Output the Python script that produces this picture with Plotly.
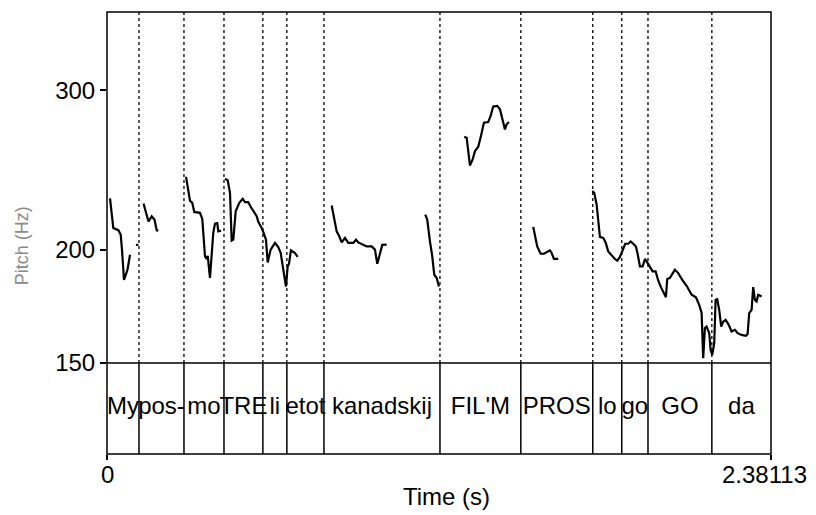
import math
import plotly.graph_objects as go

# ---- data ----
T_END = 2.38113

# pitch contour segments (time s, pitch Hz)
t_my = [0.0108, 0.0226, 0.0405, 0.0491, 0.0538, 0.0584, 0.0610, 0.0735, 0.0825]
f_my = [227.9, 211.4, 210.2, 207.9, 200.1, 190.1, 185.3, 190.1, 197.5]

t_dash = [0.1036, 0.1126]
f_dash = [202.5, 202.5]

t_pos = [0.1309, 0.1488, 0.1603, 0.1703, 0.1782, 0.1839]
f_pos = [225.0, 214.9, 217.7, 216.0, 210.2, 210.0]

t_mo = [0.2833, 0.2976, 0.3058, 0.3130, 0.3334, 0.3417, 0.3514, 0.3575, 0.3611,
        0.3693, 0.3811, 0.3872, 0.3955, 0.3990, 0.4087]
f_mo = [240.8, 226.6, 225.3, 220.2, 219.7, 216.3, 196.7, 195.4, 197.0,
        186.2, 208.8, 213.8, 214.1, 209.6, 210.0]

t_tre = [0.4231, 0.4328, 0.4410, 0.4471, 0.4529, 0.4615, 0.4744, 0.4866, 0.4948,
         0.5066, 0.5152, 0.5307, 0.5368, 0.5425, 0.5547, 0.5640, 0.5701, 0.5762,
         0.5869, 0.6024, 0.6142, 0.6228, 0.6321, 0.6382, 0.6418, 0.6479, 0.6526,
         0.6597, 0.6741, 0.6838]
f_tre = [239.6, 238.7, 231.2, 204.7, 205.2, 220.6, 225.3, 227.7, 225.7,
         225.7, 223.1, 219.7, 217.8, 214.7, 211.4, 207.9, 205.2, 193.7,
         200.1, 203.5, 201.4, 198.4, 190.1, 183.0, 182.2, 191.7, 193.0,
         199.7, 198.4, 196.4]

t_kan = [0.8057, 0.8139, 0.8236, 0.8329, 0.8415, 0.8534, 0.8652, 0.8831, 0.8928,
         0.9010, 0.9189, 0.9311, 0.9491, 0.9609, 0.9692, 0.9788, 0.9871, 1.0029]
f_kan = [223.8, 217.8, 209.6, 207.0, 203.8, 206.1, 203.5, 203.5, 205.2,
         203.8, 202.6, 201.7, 201.7, 200.1, 193.0, 198.4, 202.5, 202.6]

t_kij = [1.1413, 1.1484, 1.1581, 1.1664, 1.1736, 1.1822, 1.1904]
f_kij = [218.7, 216.0, 204.3, 196.7, 187.7, 186.2, 182.2]

t_film = [1.2811, 1.2897, 1.3015, 1.3112, 1.3195, 1.3313, 1.3410, 1.3517, 1.3671,
          1.3757, 1.3850, 1.3994, 1.4091, 1.4187, 1.4270, 1.4331, 1.4414]
f_film = [266.6, 265.9, 247.8, 251.6, 257.0, 259.9, 267.0, 276.3, 276.7,
          281.0, 287.8, 288.3, 285.8, 277.4, 271.6, 275.1, 276.7]

t_pros = [1.5285, 1.5428, 1.5550, 1.5668, 1.5884, 1.5945, 1.6027, 1.6182]
f_pros = [212.0, 201.7, 198.0, 198.0, 199.7, 198.4, 195.4, 195.4]

t_logo = [1.7400, 1.7472, 1.7558, 1.7616, 1.7677, 1.7795, 1.7881, 1.7974, 1.8096,
          1.8214, 1.8297, 1.8393, 1.8490, 1.8584, 1.8691, 1.8777, 1.8871, 1.8967,
          1.9028, 1.9111, 1.9207, 1.9290, 1.9372, 1.9469, 1.9566, 1.9674, 1.9767,
          1.9864, 2.0043, 2.0090, 2.0186, 2.0366, 2.0484, 2.0642, 2.0785, 2.0965,
          2.1119, 2.1237, 2.1323, 2.1380, 2.1441, 2.1502, 2.1596, 2.1646, 2.1703,
          2.1775, 2.1825, 2.1883, 2.1954, 2.2026, 2.2098, 2.2184, 2.2277, 2.2399,
          2.2517, 2.2614, 2.2757, 2.2911, 2.2972, 2.3030, 2.3116, 2.3173, 2.3234,
          2.3295, 2.3352, 2.3474]
f_logo = [232.1, 231.2, 224.4, 214.1, 206.6, 206.1, 203.8, 199.2, 197.0,
          195.4, 194.5, 196.4, 199.7, 203.1, 203.1, 204.3, 203.1, 201.7,
          198.0, 191.7, 191.7, 195.4, 193.7, 191.4, 189.3, 189.3, 185.0,
          181.9, 177.3, 185.7, 186.2, 190.1, 188.5, 185.0, 182.5, 178.4,
          177.3, 173.9, 170.3, 151.8, 163.9, 164.5, 161.8, 155.1, 153.1,
          157.7, 176.1, 176.4, 171.7, 164.5, 166.6, 167.4, 165.7, 162.5,
          163.2, 161.8, 161.1, 160.7, 161.5, 170.3, 171.7, 181.9, 176.1,
          175.4, 178.4, 177.6]

segments_t = [t_my, t_dash, t_pos, t_mo, t_tre, t_kan, t_kij, t_film, t_pros, t_logo]
segments_f = [f_my, f_dash, f_pos, f_mo, f_tre, f_kan, f_kij, f_film, f_pros, f_logo]

# text tier
boundaries = [0.1147, 0.2760, 0.4195, 0.5590, 0.6450, 0.7780, 1.1940, 1.4840,
              1.7420, 1.8460, 1.9400, 2.1690]
labels = ["My", "pos-", "mo", "TRE", "li", "etot", "kanadskij", "FIL'M", "PROS",
          "lo", "go", "GO", "da"]

ytick_vals = [150, 200, 300]
xtick_vals = [0, T_END]
xtick_text = ["0", "2.38113"]
F_MIN, F_MAX = 150, 366

# ---- figure ----
FONT = "Liberation Sans, Arial, sans-serif"
TIER = 0.2059

xs, ys = [], []
for st, sf in zip(segments_t, segments_f):
    xs += st + [None]
    ys += sf + [None]

edges = [0.0] + boundaries + [T_END]
mids = [(edges[i] + edges[i + 1]) / 2 for i in range(len(labels))]

fig = go.Figure()
fig.add_trace(go.Scatter(x=xs, y=ys, mode="lines", xaxis="x", yaxis="y",
                         line=dict(color="black", width=2.2), connectgaps=False,
                         hoverinfo="skip", showlegend=False))
# text tier labels (on the tier axis)
fig.add_trace(go.Scatter(x=mids, y=[0.5] * len(labels), mode="text", text=labels,
                         xaxis="x", yaxis="y2", textposition="middle center",
                         textfont=dict(family=FONT, size=24, color="black"),
                         hoverinfo="skip", showlegend=False, cliponaxis=False))

shapes = []
for b in boundaries:
    shapes.append(dict(type="line", xref="x", yref="y domain", x0=b, x1=b, y0=0, y1=1,
                       line=dict(color="black", width=1.3, dash="dot")))
    shapes.append(dict(type="line", xref="x", yref="y2 domain", x0=b, x1=b, y0=0, y1=1,
                       line=dict(color="black", width=1.5)))
# frame
shapes.append(dict(type="rect", xref="paper", yref="paper", x0=0, x1=1, y0=0, y1=1,
                   line=dict(color="black", width=1.5)))
shapes.append(dict(type="line", xref="paper", yref="paper", x0=0, x1=1, y0=TIER, y1=TIER,
                   line=dict(color="black", width=1.5)))

annotations = [
    dict(x=0.5, y=-0.097, xref="paper", yref="paper", text="Time (s)", xshift=7,
         showarrow=False, xanchor="center", yanchor="middle",
         font=dict(family=FONT, size=24, color="black")),
    dict(x=-0.128, y=0.47, xref="paper", yref="paper", text="Pitch (Hz)",
         showarrow=False, textangle=-90, xanchor="center", yanchor="middle",
         font=dict(family=FONT, size=18, color="#8a8a8a")),
]
# x tick labels (last one nudged inside the page as in the original)
for v, txt, sh in zip(xtick_vals, xtick_text, [0, -7]):
    annotations.append(dict(x=v, y=-0.047, xref="x", yref="paper", text=txt, xshift=sh,
                            showarrow=False, xanchor="center", yanchor="middle",
                            font=dict(family=FONT, size=24, color="black")))

fig.update_layout(
    width=816, height=515,
    margin=dict(l=99, r=53, t=4, b=69, autoexpand=False),
    paper_bgcolor="white", plot_bgcolor="white",
    shapes=shapes, annotations=annotations,
    xaxis=dict(range=[0, T_END], anchor="y2", tickvals=xtick_vals, showticklabels=False,
               ticks="outside", ticklen=5, tickwidth=1.5, tickcolor="black",
               showgrid=False, zeroline=False, showline=False, automargin=False),
    yaxis=dict(type="log", range=[math.log10(F_MIN), math.log10(F_MAX)],
               domain=[TIER, 1], anchor="x", tickvals=ytick_vals,
               ticktext=[str(v) for v in ytick_vals],
               ticks="outside", ticklen=6, tickwidth=1.5, tickcolor="black",
               showgrid=False, zeroline=False, showline=False, automargin=False,
               tickfont=dict(family=FONT, size=24, color="black")),
    yaxis2=dict(range=[0, 1], domain=[0, TIER], anchor="x", showticklabels=False,
                ticks="", showgrid=False, zeroline=False, showline=False, automargin=False),
)

fig.write_html("out.html")
